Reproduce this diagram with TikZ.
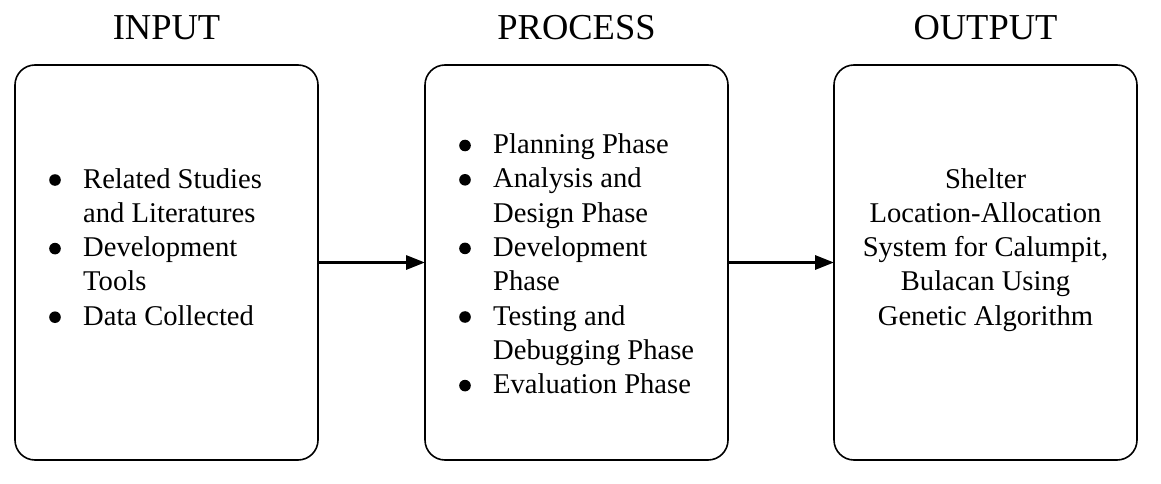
\documentclass[tikz,border=0pt]{standalone}
\usepackage{fontspec}
\setmainfont{Liberation Serif}
\usetikzlibrary{arrows.meta}
\newcommand\bul{\tikz[baseline=0pt]\fill (6pt,8pt) circle (5.8pt);}
\tikzset{
  box/.style={draw, line width=1.6pt, rounded corners=20pt, minimum width=303pt, minimum height=395pt, outer sep=0pt, inner sep=0pt},
  title/.style={anchor=base, inner sep=0pt, font=\fontsize{36.5}{40}\selectfont},
  body/.style={inner sep=0pt, font=\fontsize{28.6}{34.3}\selectfont},
  flow/.style={line width=3pt, -{Triangle[length=19pt,width=14pt]}}
}
\begin{document}
\begin{tikzpicture}[x=1pt,y=-1pt]
\useasboundingbox (0,0) rectangle (1161,484);
\node[box] (in) at (166.5,262.5) {};
\node[box] (proc) at (576.5,262.5) {};
\node[box] (out) at (985.5,262.5) {};
\node[title] (tin) at (166.5,40) {INPUT};
\node[title] (tproc) at (576.5,40) {PROCESS};
\node[title] (tout) at (985.5,40) {OUTPUT};
\node[body, anchor=base west] (lin) at (49,188) {\begin{tabular}[t]{@{}p{34pt}@{}l@{}}
\bul & Related Studies\\
 & and Literatures\\
\bul & Development\\
 & Tools\\
\bul & Data Collected
\end{tabular}};
\node[body, anchor=base west] (lproc) at (459,153.5) {\begin{tabular}[t]{@{}p{34pt}@{}l@{}}
\bul & Planning Phase\\
\bul & Analysis and\\
 & Design Phase\\
\bul & Development\\
 & Phase\\
\bul & Testing and\\
 & Debugging Phase\\
\bul & Evaluation Phase
\end{tabular}};
\node[body, anchor=base] (lout) at (985.5,188) {\begin{tabular}[t]{@{}c@{}}
Shelter\\
Location-Allocation\\
System for Calumpit,\\
Bulacan Using\\
Genetic Algorithm
\end{tabular}};
\draw[flow] (in) -- (proc);
\draw[flow] (proc) -- (out);
\end{tikzpicture}
\end{document}
